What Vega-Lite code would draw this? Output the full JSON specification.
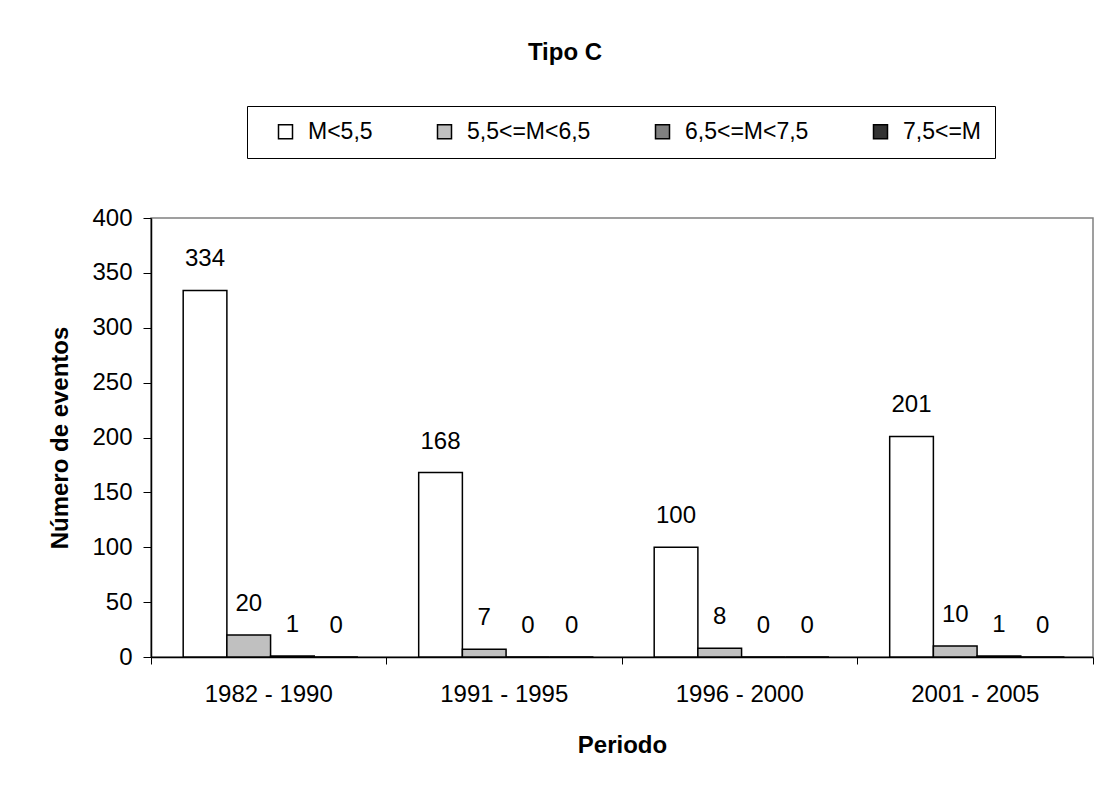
{
  "$schema": "https://vega.github.io/schema/vega-lite/v6.json",
  "width": 942,
  "height": 439,
  "autosize": {"type": "none"},
  "padding": {"left": 151, "top": 218, "right": 15, "bottom": 150},
  "background": "white",
  "config": {
    "font": "Liberation Sans",
    "view": {"stroke": "#808080", "strokeWidth": 1.5}
  },
  "title": {
    "text": "Tipo C",
    "fontSize": 24,
    "fontWeight": "bold",
    "color": "black",
    "anchor": "middle",
    "dx": -57,
    "offset": 41
  },
  "data": {
    "values": [
      {"periodo": "1982 - 1990", "magnitud": "M<5,5", "n": 334},
      {"periodo": "1982 - 1990", "magnitud": "5,5<=M<6,5", "n": 20},
      {"periodo": "1982 - 1990", "magnitud": "6,5<=M<7,5", "n": 1},
      {"periodo": "1982 - 1990", "magnitud": "7,5<=M", "n": 0},
      {"periodo": "1991 - 1995", "magnitud": "M<5,5", "n": 168},
      {"periodo": "1991 - 1995", "magnitud": "5,5<=M<6,5", "n": 7},
      {"periodo": "1991 - 1995", "magnitud": "6,5<=M<7,5", "n": 0},
      {"periodo": "1991 - 1995", "magnitud": "7,5<=M", "n": 0},
      {"periodo": "1996 - 2000", "magnitud": "M<5,5", "n": 100},
      {"periodo": "1996 - 2000", "magnitud": "5,5<=M<6,5", "n": 8},
      {"periodo": "1996 - 2000", "magnitud": "6,5<=M<7,5", "n": 0},
      {"periodo": "1996 - 2000", "magnitud": "7,5<=M", "n": 0},
      {"periodo": "2001 - 2005", "magnitud": "M<5,5", "n": 201},
      {"periodo": "2001 - 2005", "magnitud": "5,5<=M<6,5", "n": 10},
      {"periodo": "2001 - 2005", "magnitud": "6,5<=M<7,5", "n": 1},
      {"periodo": "2001 - 2005", "magnitud": "7,5<=M", "n": 0}
    ]
  },
  "encoding": {
    "x": {
      "field": "periodo",
      "type": "nominal",
      "sort": ["1982 - 1990", "1991 - 1995", "1996 - 2000", "2001 - 2005"],
      "scale": {"paddingInner": 0, "paddingOuter": 0},
      "axis": {
        "bandPosition": 1,
        "tickExtra": true,
        "labelAngle": 0,
        "tickSize": 7,
        "tickColor": "black",
        "domainColor": "black",
        "domainWidth": 1.5,
        "labelFontSize": 24,
        "labelColor": "black",
        "labelPadding": 18,
        "title": "Periodo",
        "titleFontSize": 24,
        "titleFontWeight": "bold",
        "titleColor": "black",
        "titlePadding": 27
      }
    },
    "xOffset": {
      "field": "magnitud",
      "type": "nominal",
      "sort": ["M<5,5", "5,5<=M<6,5", "6,5<=M<7,5", "7,5<=M"],
      "scale": {"paddingInner": 0, "paddingOuter": 0.695, "align": 0.53}
    },
    "y": {
      "field": "n",
      "type": "quantitative",
      "scale": {"domain": [0, 400]},
      "axis": {
        "values": [0, 50, 100, 150, 200, 250, 300, 350, 400],
        "grid": false,
        "tickSize": 8,
        "tickColor": "black",
        "domainColor": "black",
        "domainWidth": 1.5,
        "labelFontSize": 24,
        "labelColor": "black",
        "labelPadding": 11,
        "title": "Número de eventos",
        "titleFontSize": 24,
        "titleFontWeight": "bold",
        "titleColor": "black",
        "titlePadding": 19
      }
    }
  },
  "layer": [
    {
      "mark": {"type": "bar", "stroke": "black", "strokeWidth": 1.5},
      "encoding": {
        "color": {
          "field": "magnitud",
          "type": "nominal",
          "sort": ["M<5,5", "5,5<=M<6,5", "6,5<=M<7,5", "7,5<=M"],
          "scale": {
            "domain": ["M<5,5", "5,5<=M<6,5", "6,5<=M<7,5", "7,5<=M"],
            "range": ["#ffffff", "#c0c0c0", "#808080", "#333333"]
          },
          "legend": {
            "orient": "none",
            "legendX": 96,
            "legendY": -112,
            "direction": "horizontal",
            "title": "\u00a0",
            "titleOrient": "left",
            "titlePadding": 13,
            "titleFontSize": 24,
            "strokeColor": "black",
            "fillColor": "white",
            "padding": 14,
            "symbolType": "square",
            "symbolSize": 196,
            "symbolStrokeColor": "black",
            "symbolStrokeWidth": 1.5,
            "symbolOpacity": 1,
            "labelFontSize": 23,
            "labelColor": "black",
            "labelOffset": 11,
            "columnPadding": 60
          }
        }
      }
    },
    {
      "mark": {"type": "text", "baseline": "alphabetic", "dy": -24, "fontSize": 24, "color": "black"},
      "encoding": {"text": {"field": "n", "type": "quantitative"}}
    }
  ]
}
